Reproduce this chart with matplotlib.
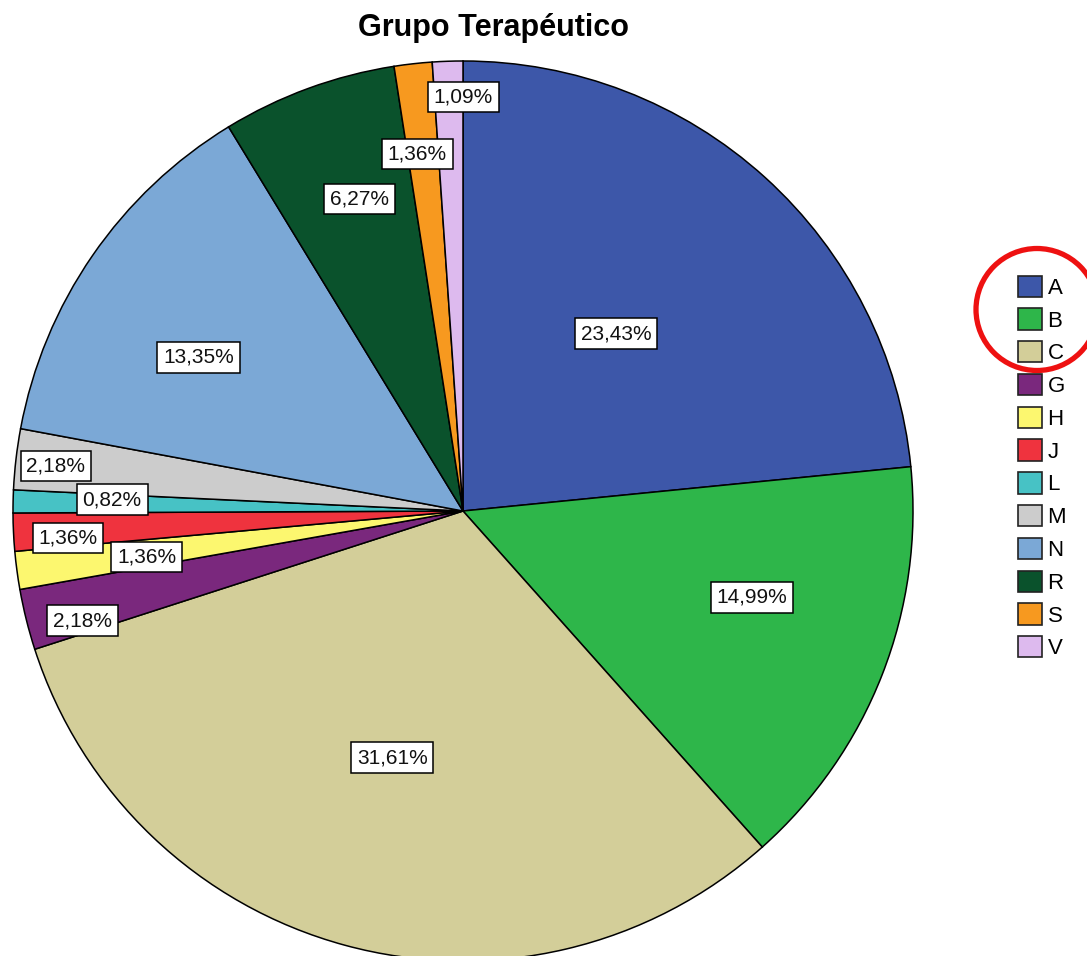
import math
import matplotlib
matplotlib.use("Agg")
import matplotlib.pyplot as plt
from matplotlib.patches import Ellipse, Patch

plt.rcParams['font.family'] = ['Liberation Sans', 'DejaVu Sans']

# data
groups = ['A', 'B', 'C', 'G', 'H', 'J', 'L', 'M', 'N', 'R', 'S', 'V']
percents = [23.43, 14.99, 31.61, 2.18, 1.36, 1.36, 0.82, 2.18, 13.35, 6.27, 1.36, 1.09]
colors = ['#3D57A9', '#2EB64A', '#D3CE99', '#7A287D', '#FCF76F', '#EF333E',
          '#47C2C5', '#CCCCCC', '#7BA8D6', '#0A522C', '#F7991F', '#DDBAEE']
title = 'Grupo Terapéutico'

# label placement: fraction of radius and small angle nudge (deg) from wedge middle
label_r = [0.52, 0.67, 0.57, 0.88, 0.71, 0.88, 0.78, 0.91, 0.68, 0.73, 0.80, 0.92]
label_dang = [1.4, 4.7, -0.8, 2.1, 0.7, 1.2, -0.6, 0.3, 4.4, -1.8, 0.9, -2.0]

W, H = 1087, 956
fig = plt.figure(figsize=(W / 100, H / 100), dpi=100)

# pie: center (463, 511) px, radius 450 px
cx, cy, rad = 463, 511, 450
ax = fig.add_axes([(cx - rad) / W, 1 - (cy + rad) / H, 2 * rad / W, 2 * rad / H])
wedges, _ = ax.pie(percents, colors=colors, startangle=90, counterclock=False,
                   radius=1, wedgeprops=dict(edgecolor='black', linewidth=1.1))
ax.set_xlim(-1, 1)
ax.set_ylim(-1, 1)
ax.set_aspect('equal')
ax.axis('off')

# percentage labels in white boxes
for w, p, r, da in zip(wedges, percents, label_r, label_dang):
    ang = math.radians((w.theta1 + w.theta2) / 2 + da)
    txt = ('%.2f%%' % p).replace('.', ',')
    ax.text(r * math.cos(ang), r * math.sin(ang), txt, ha='center', va='center',
            fontsize=15, color='#111111',
            bbox=dict(boxstyle='square,pad=0.28', fc='white', ec='black', lw=1.1))

fig.text(494 / W, 1 - 36 / H, title, ha='center', va='baseline',
         fontsize=22, fontweight='bold')

handles = [Patch(facecolor=c, edgecolor='#222222', linewidth=1.2) for c in colors]
leg = fig.legend(handles, groups, loc='upper left',
                 bbox_to_anchor=(1002 / W, 1 - 260 / H), frameon=False,
                 fontsize=16, handlelength=1.1, handleheight=1.1,
                 labelspacing=0.43, handletextpad=0.25, borderpad=0.2)

# red highlight circle around A, B, C
fig.add_artist(Ellipse((1037 / W, 1 - 309.5 / H), 122 / W, 122 / H,
                       transform=fig.transFigure, fill=False,
                       edgecolor='#EE1111', linewidth=3.8))

fig.savefig('out.png', dpi=100)
